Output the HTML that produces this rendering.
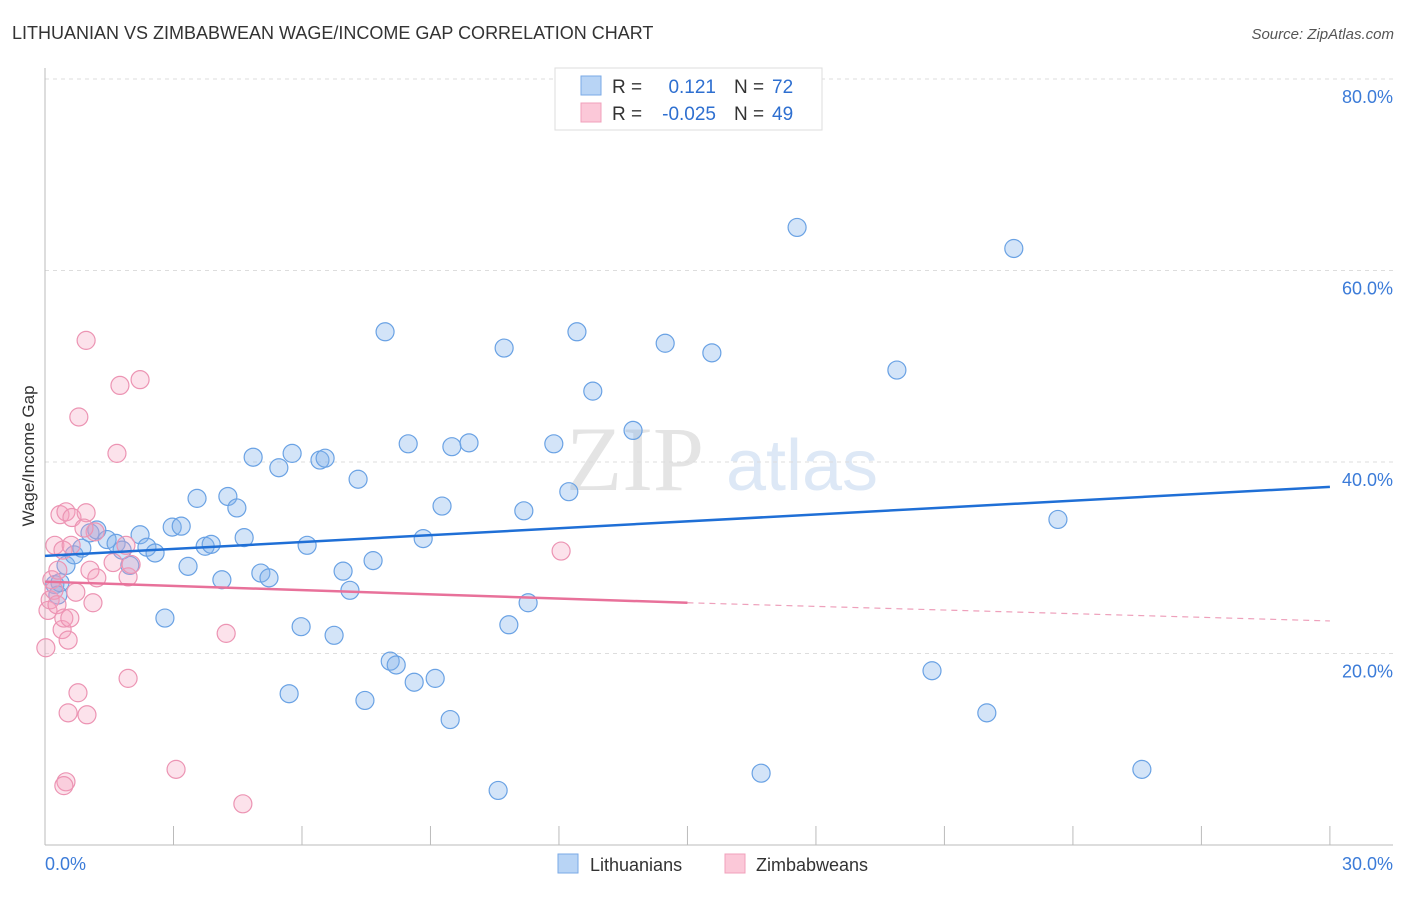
<!DOCTYPE html>
<html><head><meta charset="utf-8"><style>
body{margin:0;background:#fff;font-family:"Liberation Sans",sans-serif;}
</style></head><body>
<svg id="c" width="1406" height="892" xmlns="http://www.w3.org/2000/svg">
<text x="12" y="39" font-size="18" fill="#333">LITHUANIAN VS ZIMBABWEAN WAGE/INCOME GAP CORRELATION CHART</text>
<text x="1394" y="39" font-size="15" fill="#555" font-style="italic" text-anchor="end">Source: ZipAtlas.com</text>
<text x="635" y="490" font-size="92" fill="#e4e4e4" font-family="Liberation Serif" text-anchor="middle">ZIP</text>
<text x="802" y="490" font-size="72" fill="#dde8f6" text-anchor="middle">atlas</text>
<g id="grid"></g><g id="axes"></g><g id="marks"></g>
<text transform="translate(34,456) rotate(-90)" font-size="17" fill="#333" text-anchor="middle">Wage/Income Gap</text>
<g>
<rect x="555" y="68" width="267" height="62" fill="#fff" stroke="#ddd"/>
<rect x="581" y="76" width="20" height="19" fill="#b8d4f5" stroke="#7aaae6"/>
<rect x="581" y="103" width="20" height="19" fill="#fbc8d8" stroke="#f0a0bb"/>
<text x="612" y="93" font-size="19" fill="#333">R =</text>
<text x="716" y="93" font-size="19" fill="#2e6fd0" text-anchor="end">0.121</text>
<text x="734" y="93" font-size="19" fill="#333">N =</text>
<text x="772" y="93" font-size="19" fill="#2e6fd0">72</text>
<text x="612" y="120" font-size="19" fill="#333">R =</text>
<text x="716" y="120" font-size="19" fill="#2e6fd0" text-anchor="end">-0.025</text>
<text x="734" y="120" font-size="19" fill="#333">N =</text>
<text x="772" y="120" font-size="19" fill="#2e6fd0">49</text>
</g>
<g>
<rect x="558" y="854" width="20" height="19" fill="#b8d4f5" stroke="#7aaae6"/>
<text x="590" y="871" font-size="18" fill="#333">Lithuanians</text>
<rect x="725" y="854" width="20" height="19" fill="#fbc8d8" stroke="#f0a0bb"/>
<text x="756" y="871" font-size="18" fill="#333">Zimbabweans</text>
</g>
</svg>
<script>
const blueX=[0.23,0.30,0.35,0.49,0.68,0.86,1.05,1.21,1.45,1.66,1.80,1.98,2.22,2.38,2.57,2.80,2.97,3.18,3.34,3.55,3.74,3.88,4.13,4.27,4.48,4.65,4.86,5.04,5.23,5.46,5.70,5.77,5.98,6.12,6.42,6.54,6.75,6.96,7.12,7.31,7.47,7.66,7.94,8.06,8.20,8.48,8.62,8.83,9.11,9.27,9.46,9.50,9.90,10.58,10.72,10.83,11.18,11.28,11.88,12.23,12.42,12.79,13.73,14.48,15.57,16.72,17.56,19.89,20.71,21.99,22.62,23.65,25.61];
const blueY=[27.2,26.1,27.4,29.2,30.3,31.0,32.6,32.9,31.9,31.5,30.8,29.2,32.4,31.1,30.5,23.7,33.2,33.3,29.1,36.2,31.2,31.4,27.7,36.4,35.2,32.1,40.5,28.4,27.9,39.4,15.8,40.9,22.8,31.3,40.2,40.4,21.9,28.6,26.6,38.2,15.1,29.7,53.6,19.2,18.8,41.9,17.0,32.0,17.4,35.4,13.1,41.6,42.0,5.7,51.9,23.0,34.9,25.3,41.9,36.9,53.6,47.4,43.3,52.4,51.4,7.5,64.5,49.6,18.2,13.8,62.3,34.0,7.9];
const pinkX=[0.02,0.07,0.12,0.16,0.21,0.23,0.28,0.30,0.35,0.40,0.42,0.44,0.49,0.54,0.58,0.61,0.63,0.72,0.77,0.54,0.96,0.98,1.05,1.12,1.21,0.96,0.79,0.49,0.44,1.68,1.75,1.94,1.94,2.01,2.22,3.06,4.23,4.62,12.05,1.59,1.89,1.17,0.91];
const pinkY=[20.6,24.5,25.6,27.7,26.6,31.3,25.1,28.7,34.5,22.5,30.8,23.7,34.8,21.4,23.7,31.3,34.2,26.4,15.9,13.8,34.7,13.6,28.7,25.3,27.9,52.7,44.7,6.6,6.2,40.9,48.0,28.0,17.4,29.3,48.6,7.9,22.1,4.3,30.7,29.5,31.3,32.7,33.1];
const blueTrend=[30.2,37.4];
const pinkTrend=[27.5,25.3,23.4];
const yTicks=[20,40,60,80];
const yTickLabels=["20.0%","40.0%","60.0%","80.0%"];
const xTickLabels=["0.0%","30.0%"];
const NS="http://www.w3.org/2000/svg";
const sx=v=>45+v*42.83, sy=v=>845-v*9.575;
function mk(t,a,p){const e=document.createElementNS(NS,t);for(const k in a)e.setAttribute(k,a[k]);p.appendChild(e);return e;}
const grid=document.getElementById('grid'),axes=document.getElementById('axes'),marks=document.getElementById('marks');
yTicks.forEach((v,i)=>{
 const l=mk('line',{x1:45,x2:1393,y1:sy(v),y2:sy(v),stroke:'#ddd','stroke-dasharray':'4,4'},grid);
 
 
 const t=mk('text',{x:1393,y:sy(v)+24,'font-size':18,fill:'#3b7bd8','text-anchor':'end'},axes);
 t.textContent=yTickLabels[i];
 
 
});
mk('line',{x1:45,x2:45,y1:68,y2:845,stroke:'#bbb'},axes);
mk('line',{x1:45,x2:1393,y1:845,y2:845,stroke:'#bbb'},axes);
for(let k=1;k<=10;k++){const x=sx(k*3);const l=mk('line',{x1:x,x2:x,y1:826,y2:845,stroke:'#bbb'},axes);
 
 }
const tx0=mk('text',{x:45,y:870,'font-size':18,fill:'#3b7bd8'},axes);tx0.textContent=xTickLabels[0];


const tx1=mk('text',{x:1393,y:870,'font-size':18,fill:'#3b7bd8','text-anchor':'end'},axes);tx1.textContent=xTickLabels[1];


blueX.forEach((x,i)=>{const c=mk('circle',{cx:sx(x),cy:sy(blueY[i]),r:9,fill:'rgba(130,178,235,0.35)',stroke:'#6aa2e4','stroke-width':1.2},marks);
 
 });
pinkX.forEach((x,i)=>{const c=mk('circle',{cx:sx(x),cy:sy(pinkY[i]),r:9,fill:'rgba(245,160,190,0.3)',stroke:'#ec94b3','stroke-width':1.2},marks);
 
 });
const bl=mk('line',{x1:sx(0),y1:sy(blueTrend[0]),x2:sx(30),y2:sy(blueTrend[1]),stroke:'#1f6fd6','stroke-width':2.5},marks);


const pl=mk('line',{x1:sx(0),y1:sy(pinkTrend[0]),x2:sx(15),y2:sy(pinkTrend[1]),stroke:'#e8719a','stroke-width':2.5},marks);


const pd=mk('line',{x1:sx(15),y1:sy(pinkTrend[1]),x2:sx(30),y2:sy(pinkTrend[2]),stroke:'#eea0bb','stroke-width':1.2,'stroke-dasharray':'6,5'},marks);


</script>
</body></html>
